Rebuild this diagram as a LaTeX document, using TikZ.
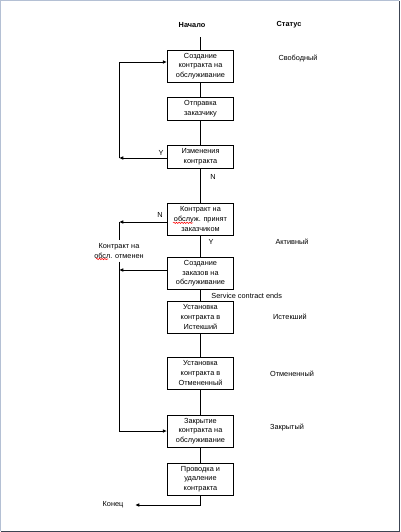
\documentclass[tikz,border=0pt]{standalone}
\usepackage{fontspec}
\setmainfont{Liberation Sans}
\usetikzlibrary{arrows.meta,decorations.pathmorphing}
\definecolor{framelight}{HTML}{B4C0D4}
\definecolor{framedark}{HTML}{3C4452}

\begin{document}
\begin{tikzpicture}[x=0.75pt, y=-0.75pt, line width=0.7pt,
  every node/.style={font=\fontsize{5.5}{7.25}\selectfont, align=center, inner sep=0pt},
  box/.style={draw, minimum width=49.5pt, minimum height=24pt},
  arr/.style={-{Latex[length=3.2pt,width=2.8pt]}},
  wavy/.style={red, line width=0.4pt, decorate, decoration={snake, amplitude=0.5pt, segment length=2pt}}]
  \useasboundingbox (0,0) rectangle (400,532);
  \draw[framelight, line width=1pt] (0.7,531) -- (0.7,0.7) -- (399,0.7);
  \draw[framedark, line width=1pt] (399.3,0.7) -- (399.3,531.3) -- (0.7,531.3);
  \node (start) at (192,25) {\textbf{Начало}};
  \node (status) at (289,25) {\textbf{Статус}};
  \node[box] (1) at (200.5,66) {Создание\\контракта на\\обслуживание};
  \node[box, minimum height=17.25pt] (2) at (200.5,108.5) {Отправка\\заказчику};
  \node[box, minimum height=17.25pt] (3) at (200.5,156.5) {Изменения\\контракта};
  \node[box] (4) at (200.5,219) {Контракт на\\обслуж. принят\\заказчиком};
  \node[box] (5) at (200.5,273.5) {Создание\\заказов на\\обслуживание};
  \node[box] (6) at (200.5,317) {Установка\\контракта в\\Истекший};
  \node[box] (7) at (200.5,373) {Установка\\контракта в\\Отмененный};
  \node[box] (8) at (200.5,431) {Закрытие\\контракта на\\обслуживание};
  \node[box] (9) at (200.5,479) {Проводка и\\удаление\\контракта};
  \node (free) at (298,59) {Свободный};
  \node (active) at (292,242) {Активный};
  \node (expired) at (290,317) {Истекший};
  \node (cancelled) at (292,374) {Отмененный};
  \node (closed) at (287,428) {Закрытый};
  \node (y1) at (161,153) {Y};
  \node (n1) at (213,177) {N};
  \node (n2) at (160,215) {N};
  \node (y2) at (211,242) {Y};
  \node[anchor=west] (ends) at (211,296) {Service contract ends};
  \node[inner ysep=2pt] (cancel) at (119,251) {Контракт на\\обсл. отменен};
  \node (end) at (113,505) {Конец};
  \coordinate (top) at (200.5,37);
  \coordinate (a) at (119,158);
  \coordinate (b) at (119,62);
  \coordinate (c) at (119,222);
  \coordinate (d) at (119,270);
  \coordinate (e) at (135,505);
  \draw (top) -- (1);
  \draw (1) -- (2);
  \draw (2) -- (3);
  \draw (3) -- (4);
  \draw (4) -- (5);
  \draw (5) -- (6);
  \draw (6) -- (7);
  \draw (7) -- (8);
  \draw (8) -- (9);
  \draw[arr] (3.west |- a) -- (a);
  \draw[arr] (a) -- (b) -- (1.west |- b);
  \draw[arr] (4.west |- c) -- (c);
  \draw (c) -- (cancel);
  \draw[arr] (5.west |- d) -- (d);
  \draw[arr] (cancel) |- (8);
  \draw[arr] (9) |- (e);
  \draw[wavy] (173,222.8) -- (193,222.8);
  \draw[wavy] (96,259) -- (108,259);
\end{tikzpicture}
\end{document}
